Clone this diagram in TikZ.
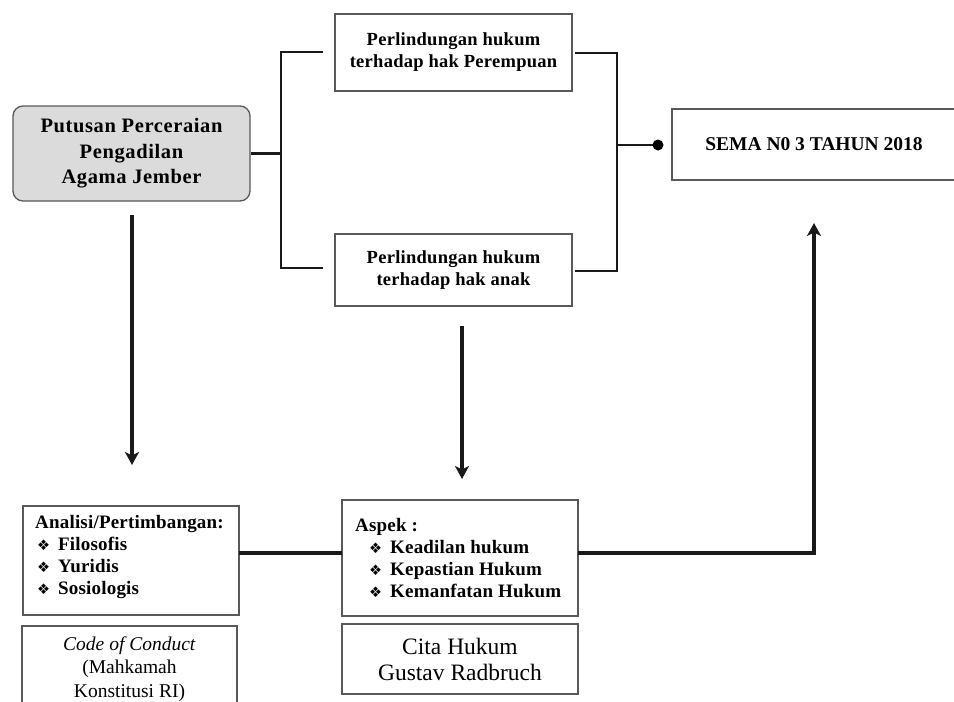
\documentclass[tikz,border=0pt]{standalone}
\usepackage{fontspec}
\setmainfont{Liberation Serif}
\newfontfamily\symfont{DejaVu Sans}
\usetikzlibrary{arrows.meta}
\newcommand{\bul}{{\symfont\fontsize{14.5}{14.5}\selectfont ❖}}
\begin{document}
\begin{tikzpicture}[x=1pt,y=-1pt,
  box/.style={draw=black!65, line width=1.3pt, inner sep=0pt},
  conn/.style={line width=2.8pt, draw=black!90},
  thick conn/.style={conn, line width=3.1pt},
  arr/.style={thick conn, -{Stealth[length=13pt,width=14pt,inset=3.5pt]}},
  bigb/.style={font=\bfseries\fontsize{20.5}{25.5}\selectfont\addfontfeature{LetterSpace=3}, align=center},
  midb/.style={font=\bfseries\fontsize{18.5}{22}\selectfont\addfontfeature{LetterSpace=1.5}, align=center},
  semab/.style={font=\bfseries\fontsize{19.5}{22}\selectfont, align=center},
  listb/.style={font=\bfseries\fontsize{19}{22}\selectfont\addfontfeature{LetterSpace=1}, align=left, inner sep=0pt, anchor=north west},
  regt/.style={font=\fontsize{23.5}{26}\selectfont, align=center},
  codet/.style={font=\fontsize{19.5}{23.5}\selectfont, align=center}]
\useasboundingbox (0,0) rectangle (954,702);
\fill[white] (0,0) rectangle (954,702);

% top boxes
\node[box, rounded corners=10pt, fill=black!14, minimum width=237, minimum height=95, bigb] (put) at (131.5,153.5) {Putusan Perceraian\\Pengadilan\\Agama Jember};
\node[box, minimum width=237, minimum height=77, midb] (per1) at (453.5,52.5) {Perlindungan hukum\\terhadap hak Perempuan};
\node[box, minimum width=237, minimum height=72, midb] (per2) at (453.5,270) {Perlindungan hukum\\terhadap hak anak};
\node[box, minimum width=284, minimum height=71, semab] (sema) at (814,144.5) {SEMA N0 3 TAHUN 2018};

% bottom boxes
\node[box, minimum width=216, minimum height=109] (anl) at (131,560.5) {};
\node[listb] (anltxt) at (35,515) {Analisi/Pertimbangan:\\
\hspace*{2pt}\makebox[21pt][l]{\bul}Filosofis\\
\hspace*{2pt}\makebox[21pt][l]{\bul}Yuridis\\
\hspace*{2pt}\makebox[21pt][l]{\bul}Sosiologis};
\node[box, minimum width=236, minimum height=116] (asp) at (460,558) {};
\node[listb] (asptxt) at (355,518) {Aspek :\\
\hspace*{14pt}\makebox[21pt][l]{\bul}Keadilan hukum\\
\hspace*{14pt}\makebox[21pt][l]{\bul}Kepastian Hukum\\
\hspace*{14pt}\makebox[21pt][l]{\bul}Kemanfatan Hukum};
\node[box, minimum width=215, minimum height=86, codet] (code) at (129.5,669) {\textit{Code of Conduct}\\(Mahkamah\\Konstitusi RI)};
\node[box, minimum width=236, minimum height=70, regt] (cita) at (460,659) {Cita Hukum\\Gustav Radbruch};

% left bracket
\coordinate (a1) at (323,52);
\coordinate (a3) at (281,268);
\coordinate (a4) at (323,268);
\draw[conn] (a1) -| (a3) -- (a4);
\draw[conn] (put.east) -- (put.east -| a3);

% right bracket
\coordinate (c1) at (575,53);
\coordinate (c3) at (617,271);
\coordinate (c4) at (575,271);
\coordinate (cm) at (617,145);
\coordinate (dot) at (658,145);
\draw[conn] (c1) -| (c3) -- (c4);
\draw[conn] (cm) -- (dot);
\fill[black] (dot) circle (5.5);

% arrows
\coordinate (d1s) at (132,215);
\coordinate (d1e) at (132,465);
\draw[arr] (d1s) -- (d1e);
\coordinate (d2s) at (462,326);
\coordinate (d2e) at (462,479);
\draw[arr] (d2s) -- (d2e);
\coordinate (e1) at (578,553);
\coordinate (e3) at (814,223);
\draw[arr] (e1) -| (e3);
\coordinate (f1) at (239,553);
\coordinate (f2) at (342,553);
\draw[thick conn] (f1) -- (f2);
\end{tikzpicture}
\end{document}
